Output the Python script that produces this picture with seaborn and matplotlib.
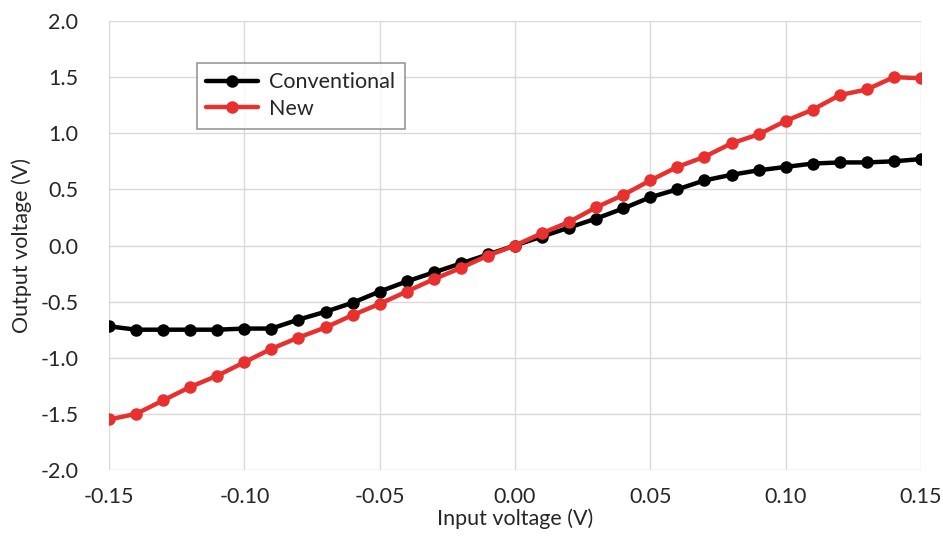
import numpy as np
import pandas as pd
import matplotlib
matplotlib.use('Agg')
import matplotlib.pyplot as plt
import seaborn as sns

# входное напряжение, В
input_v = [-0.15, -0.14, -0.13, -0.12, -0.11, -0.10, -0.09, -0.08, -0.07, -0.06,
           -0.05, -0.04, -0.03, -0.02, -0.01, 0.00, 0.01, 0.02, 0.03, 0.04,
           0.05, 0.06, 0.07, 0.08, 0.09, 0.10, 0.11, 0.12, 0.13, 0.14, 0.15]

# выход, В
conventional = [-0.72, -0.75, -0.75, -0.75, -0.75, -0.74, -0.74, -0.66, -0.59, -0.51,
                -0.41, -0.32, -0.24, -0.16, -0.08, 0.00, 0.08, 0.16, 0.24, 0.33,
                0.43, 0.50, 0.58, 0.63, 0.67, 0.70, 0.73, 0.74, 0.74, 0.75, 0.77]
new = [-1.55, -1.50, -1.38, -1.26, -1.16, -1.04, -0.92, -0.82, -0.73, -0.62,
       -0.52, -0.41, -0.30, -0.20, -0.09, 0.00, 0.11, 0.21, 0.34, 0.45,
       0.58, 0.70, 0.79, 0.91, 0.99, 1.11, 1.21, 1.34, 1.39, 1.50, 1.49]

x_ticks = [-0.15, -0.10, -0.05, 0.00, 0.05, 0.10, 0.15]
y_ticks = [-2.0, -1.5, -1.0, -0.5, 0.0, 0.5, 1.0, 1.5, 2.0]

df = pd.DataFrame({'x': input_v * 2,
                   'y': conventional + new,
                   'series': ['Conventional'] * len(input_v) + ['New'] * len(input_v)})

sns.set_style("white")
plt.rcParams['font.family'] = ['Lato', 'DejaVu Sans']

fig = plt.figure(figsize=(9.43, 5.4), dpi=100)
ax = fig.add_axes([109 / 943, 1 - 470 / 540, (921 - 109) / 943, (470 - 21) / 540])

sns.lineplot(data=df, x='x', y='y', hue='series',
             palette={'Conventional': 'black', 'New': '#e8312f'},
             marker='o', markersize=9, markeredgewidth=0, linewidth=3.2,
             ax=ax, zorder=3)

ax.set_xlim(-0.15, 0.15)
ax.set_ylim(-2.0, 2.0)
ax.set_xticks(x_ticks)
ax.set_yticks(y_ticks)
ax.set_xticklabels([f'{t:.2f}' for t in x_ticks])
ax.set_yticklabels([f'{t:.1f}' for t in y_ticks])
ax.grid(True, color='#d9d9d9', linewidth=1)
for s in ax.spines.values():
    s.set_visible(False)
ax.tick_params(axis='both', length=0, labelsize=15.5)
ax.tick_params(axis='x', pad=12)
ax.tick_params(axis='y', pad=22)

ax.set_xlabel('Input voltage (V)', fontsize=15.5, labelpad=1)
ax.set_ylabel('Output voltage (V)', fontsize=15.5, labelpad=6)

# рамка легенды как в оригинале
leg = ax.legend(loc='upper left', bbox_to_anchor=(0.108, 0.907), borderaxespad=0,
                fontsize=15.5, frameon=True, fancybox=False, handlelength=2.4,
                borderpad=0.45, labelspacing=0.3, handletextpad=0.5)
leg.get_frame().set_edgecolor('#7f7f7f')
leg.get_frame().set_linewidth(1.2)
leg.set_title(None)

plt.savefig('out.png', dpi=100)
